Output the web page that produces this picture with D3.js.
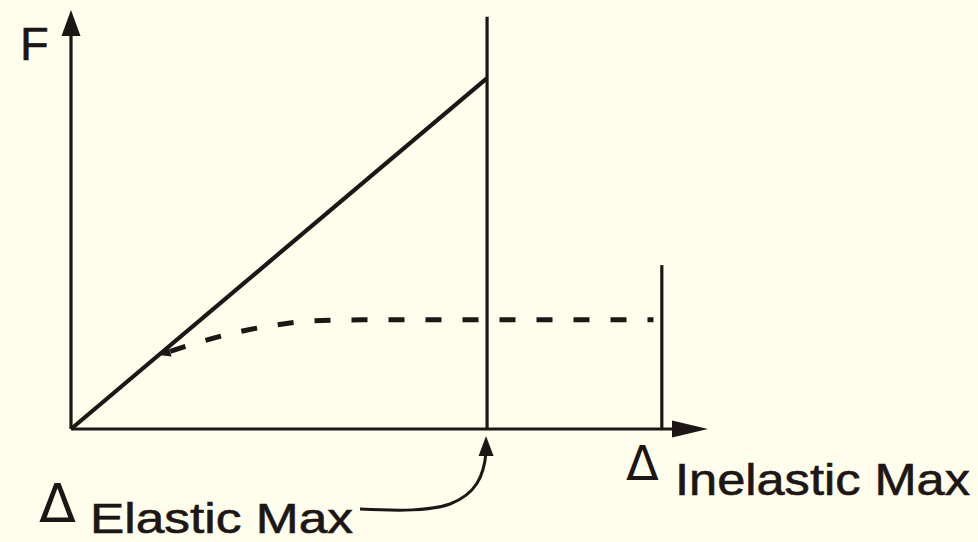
<!DOCTYPE html>
<html>
<head>
<meta charset="utf-8" />
<title>force displacement</title>
<script src="https://cdn.jsdelivr.net/npm/d3@7/dist/d3.min.js"></script>
<style>
  body { margin: 0; background: #fffdec; }
  svg { display: block; }
</style>
</head>
<body>
<svg width="978" height="542"></svg>
<script>
// displacement in units of the elastic max, force in units of the elastic max force
var elasticMax = 1.0
var inelasticMax = 1.42
var elasticForce = 1.0
var elasticLineTop = 1.175
var inelasticLineTop = 0.467

// inelastic (dashed) response
var inelasticX = [0.22, 0.31, 0.40, 0.49, 0.58, 0.70, 1.40]
var inelasticF = [0.214, 0.248, 0.276, 0.296, 0.308, 0.311, 0.311]

var labels = ['F', 'Elastic Max', 'Inelastic Max']

var svg = d3.select('svg')
var ink = '#1c1714'
var font = 'Liberation Sans, Arial, sans-serif'

var x = d3.scaleLinear().domain([0, 1.531]).range([71, 708])
var y = d3.scaleLinear().domain([0, 1.194]).range([429, 10])

var g = svg.append('g')

// arrowheads
function head(px, py, angle, len, wid) {
  g.append('path')
    .attr('d', `M0,0 L${-len},${-wid/2} L${-len},${wid/2} Z`)
    .attr('transform', `translate(${px},${py}) rotate(${angle})`)
    .attr('fill', ink)
}

// axes
g.append('line')
  .attr('x1', x(0)).attr('y1', y(0))
  .attr('x2', x(0)).attr('y2', y(1.13))
  .attr('stroke', ink).attr('stroke-width', 3.2)
head(x(0), y(1.194), -90, 26, 19)

g.append('line')
  .attr('x1', x(0)).attr('y1', y(0))
  .attr('x2', x(1.46)).attr('y2', y(0))
  .attr('stroke', ink).attr('stroke-width', 3.2)
head(x(1.531), y(0), 0, 36, 17)

// vertical limits
g.append('line')
  .attr('x1', x(elasticMax)).attr('y1', y(0))
  .attr('x2', x(elasticMax)).attr('y2', y(elasticLineTop))
  .attr('stroke', ink).attr('stroke-width', 3.2)
g.append('line')
  .attr('x1', x(inelasticMax)).attr('y1', y(0))
  .attr('x2', x(inelasticMax)).attr('y2', y(inelasticLineTop))
  .attr('stroke', ink).attr('stroke-width', 3.2)

// elastic response
g.append('line')
  .attr('x1', x(0)).attr('y1', y(0))
  .attr('x2', x(elasticMax)).attr('y2', y(elasticForce))
  .attr('stroke', ink).attr('stroke-width', 4.2)

// inelastic response
var pts = inelasticX.map((d, i) => [d, inelasticF[i]])
var line = d3.line()
  .x(d => x(d[0]))
  .y(d => y(d[1]))
  .curve(d3.curveMonotoneX)
g.append('path')
  .attr('d', line(pts))
  .attr('fill', 'none')
  .attr('stroke', ink).attr('stroke-width', 5)
  .attr('stroke-dasharray', '16,21')
  .attr('stroke-dashoffset', -8)
var ang = Math.atan2(y(pts[0][1]) - y(pts[1][1]), x(pts[0][0]) - x(pts[1][0])) * 180 / Math.PI
head(x(pts[0][0]) - 4, y(pts[0][1]) + 1, ang, 12, 11)

// labels
g.append('text')
  .attr('x', 20).attr('y', 60)
  .attr('font-family', font)
  .attr('font-size', 47)
  .attr('fill', ink).attr('stroke', ink).attr('stroke-width', 0.6)
  .text(labels[0])

g.append('text')
  .attr('x', 39).attr('y', 522)
  .attr('font-family', 'DejaVu Sans, sans-serif')
  .attr('font-size', 54)
  .attr('fill', ink)
  .text('\u0394')
g.append('text')
  .attr('x', 90).attr('y', 533)
  .attr('font-family', font)
  .attr('font-size', 43)
  .attr('textLength', 263).attr('lengthAdjust', 'spacingAndGlyphs')
  .attr('fill', ink).attr('stroke', ink).attr('stroke-width', 0.6)
  .text(labels[1])

g.append('text')
  .attr('x', 626).attr('y', 480)
  .attr('font-family', 'DejaVu Sans, sans-serif')
  .attr('font-size', 48)
  .attr('fill', ink)
  .text('\u0394')
g.append('text')
  .attr('x', 675).attr('y', 495)
  .attr('font-family', font)
  .attr('font-size', 44)
  .attr('textLength', 295).attr('lengthAdjust', 'spacingAndGlyphs')
  .attr('fill', ink).attr('stroke', ink).attr('stroke-width', 0.6)
  .text(labels[2])

// pointer from Elastic Max label to the limit
var ex = x(elasticMax)
g.append('path')
  .attr('d', `M360,509 C400,511 430,511 450,504 C476,494 484,476 ${ex - 1},452`)
  .attr('fill', 'none')
  .attr('stroke', ink).attr('stroke-width', 3)
head(ex - 1, 436, -90, 20, 15)
</script>
</body>
</html>
